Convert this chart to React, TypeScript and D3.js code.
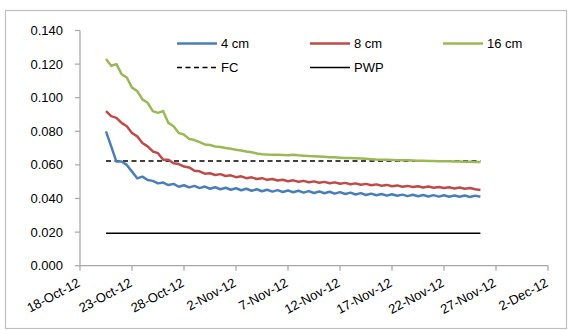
import React from 'react';
import * as d3 from 'd3';

// readings are every 12 hours from 20-Oct-12 12:00
const startTime = new Date(2012, 9, 20, 12);
const stepHours = 12;

const cm4 = [
  0.080, 0.071, 0.062, 0.062, 0.060, 0.056, 0.052, 0.053, 0.051, 0.0505,
  0.049, 0.0495, 0.048, 0.0487, 0.047, 0.0479, 0.0466, 0.0475, 0.0462, 0.0471,
  0.0458, 0.0467, 0.0455, 0.0464, 0.0452, 0.0461, 0.0449, 0.0458, 0.0446, 0.0455,
  0.0443, 0.0452, 0.0441, 0.0450, 0.0439, 0.0448, 0.0437, 0.0446, 0.0435, 0.0444,
  0.0433, 0.0442, 0.0431, 0.0440, 0.0429, 0.0438, 0.0427, 0.0435, 0.0424, 0.0432,
  0.0421, 0.0429, 0.0419, 0.0427, 0.0417, 0.0425, 0.0416, 0.0423, 0.0414, 0.0422,
  0.0413, 0.0421, 0.0412, 0.0420, 0.0411, 0.0419, 0.0410, 0.0418, 0.0410, 0.0418,
  0.0409, 0.0417, 0.0410,
];

const cm8 = [
  0.092, 0.089, 0.088, 0.085, 0.083, 0.079, 0.077, 0.073, 0.071, 0.068,
  0.067, 0.063, 0.063, 0.061, 0.0605, 0.059, 0.0585, 0.0565, 0.0562, 0.0548,
  0.0550, 0.0540, 0.0545, 0.0534, 0.0538, 0.0527, 0.0532, 0.0521, 0.0526, 0.0516,
  0.0521, 0.0511, 0.0516, 0.0507, 0.0512, 0.0503, 0.0508, 0.0500, 0.0505, 0.0497,
  0.0502, 0.0494, 0.0499, 0.0491, 0.0496, 0.0488, 0.0493, 0.0485, 0.0490, 0.0482,
  0.0487, 0.0479, 0.0484, 0.0476, 0.0481, 0.0473, 0.0478, 0.0470, 0.0475, 0.0468,
  0.0473, 0.0466, 0.0471, 0.0464, 0.0469, 0.0462, 0.0467, 0.0460, 0.0465, 0.0458,
  0.0462, 0.0455, 0.0450,
];

const cm16 = [
  0.123, 0.119, 0.120, 0.114, 0.112, 0.106, 0.104, 0.099, 0.097, 0.092,
  0.091, 0.092, 0.085, 0.083, 0.079, 0.078, 0.0755, 0.0748, 0.0735, 0.0722,
  0.0718, 0.0710, 0.0706, 0.0700, 0.0696, 0.0690, 0.0686, 0.0680, 0.0675, 0.0668,
  0.0664, 0.0662, 0.0661, 0.0660, 0.0659, 0.0658, 0.0660, 0.0657, 0.0655, 0.0653,
  0.0652, 0.0650, 0.0648, 0.0646, 0.0645, 0.0643, 0.0641, 0.0641, 0.0640, 0.0638,
  0.0636, 0.0634, 0.0632, 0.0631, 0.0630, 0.0629, 0.0628, 0.0628, 0.0627, 0.0626,
  0.0625, 0.0624, 0.0623, 0.0623, 0.0622, 0.0621, 0.0622, 0.0620, 0.0620, 0.0619,
  0.0619, 0.0618, 0.0617,
];

const fcValue = 0.0623;
const pwpValue = 0.0193;

const yTicks = [0, 0.02, 0.04, 0.06, 0.08, 0.1, 0.12, 0.14];
const xTickDates = [
  '18-Oct-12', '23-Oct-12', '28-Oct-12', '2-Nov-12', '7-Nov-12', '12-Nov-12',
  '17-Nov-12', '22-Nov-12', '27-Nov-12', '2-Dec-12',
];

const series = [
  { name: '4 cm', values: cm4, color: '#4a7ebb' },
  { name: '8 cm', values: cm8, color: '#be4b48' },
  { name: '16 cm', values: cm16, color: '#98b954' },
];

const font = '"Liberation Sans", Arial, sans-serif';

export default function App() {
  const parse = d3.timeParse('%d-%b-%y');
  const tickDates = xTickDates.map((d) => parse(d) as Date);

  const x = d3.scaleTime()
    .domain([tickDates[0], tickDates[tickDates.length - 1]])
    .range([80, 548]);
  const y = d3.scaleLinear().domain([0, 0.14]).range([265.7, 30.5]);

  const timeAt = (i: number) => d3.timeHour.offset(startTime, i * stepHours);
  const line = d3.line<number>()
    .x((d, i) => x(timeAt(i)))
    .y((d) => y(d));

  const firstT = timeAt(0);
  const lastT = timeAt(cm4.length - 1);

  const axisColor = '#a6a6a6';

  return (
    <svg width={573} height={330} style={{ position: 'absolute', left: 0, top: 0 }}>
      <rect x={0} y={0} width={573} height={330} fill="#fff" />
      <rect x={5.5} y={10.5} width={561} height={318} fill="none" stroke="#bfbfbf" strokeWidth={1.2} />

      {/* y axis */}
      <line x1={80} x2={80} y1={y(0.14)} y2={y(0)} stroke={axisColor} strokeWidth={1.2} />
      {yTicks.map((t) => (
        <g key={t}>
          <line x1={75} x2={80} y1={y(t)} y2={y(t)} stroke={axisColor} strokeWidth={1.2} />
          <text x={63} y={y(t)} dy="0.35em" textAnchor="end" fontFamily={font} fontSize={13} fill="#000">
            {d3.format('.3f')(t)}
          </text>
        </g>
      ))}

      {/* x axis */}
      <line x1={x(tickDates[0])} x2={x(tickDates[tickDates.length - 1])} y1={y(0)} y2={y(0)} stroke={axisColor} strokeWidth={1.2} />
      {tickDates.map((d, i) => (
        <g key={i}>
          <line x1={x(d)} x2={x(d)} y1={y(0)} y2={y(0) + 5} stroke={axisColor} strokeWidth={1.2} />
          <text
            transform={`translate(${x(d) + 1},${y(0) + 20}) rotate(-28)`}
            textAnchor="end"
            fontFamily={font}
            fontSize={13}
            fill="#000"
          >
            {xTickDates[i]}
          </text>
        </g>
      ))}

      {/* reference lines */}
      <line x1={x(firstT)} x2={x(lastT)} y1={y(fcValue)} y2={y(fcValue)} stroke="#000" strokeWidth={1.5} strokeDasharray="5,3.5" />
      <line x1={x(firstT)} x2={x(lastT)} y1={y(pwpValue)} y2={y(pwpValue)} stroke="#000" strokeWidth={1.5} />

      {series.map((s) => (
        <path key={s.name} d={line(s.values) || ''} fill="none" stroke={s.color} strokeWidth={2.5} strokeLinejoin="round" />
      ))}

      {/* legend */}
      {series.map((s, i) => {
        const lx = [177, 310, 443][i];
        return (
          <g key={s.name}>
            <line x1={lx} x2={lx + 40} y1={43.5} y2={43.5} stroke={s.color} strokeWidth={2.5} />
            <text x={lx + 44} y={43.5} dy="0.35em" fontFamily={font} fontSize={13} fill="#000">{s.name}</text>
          </g>
        );
      })}
      <line x1={177} x2={217} y1={67.5} y2={67.5} stroke="#000" strokeWidth={1.5} strokeDasharray="5,3.5" />
      <text x={221} y={67.5} dy="0.35em" fontFamily={font} fontSize={13} fill="#000">FC</text>
      <line x1={310} x2={350} y1={67.5} y2={67.5} stroke="#000" strokeWidth={1.5} />
      <text x={354} y={67.5} dy="0.35em" fontFamily={font} fontSize={13} fill="#000">PWP</text>
    </svg>
  );
}
